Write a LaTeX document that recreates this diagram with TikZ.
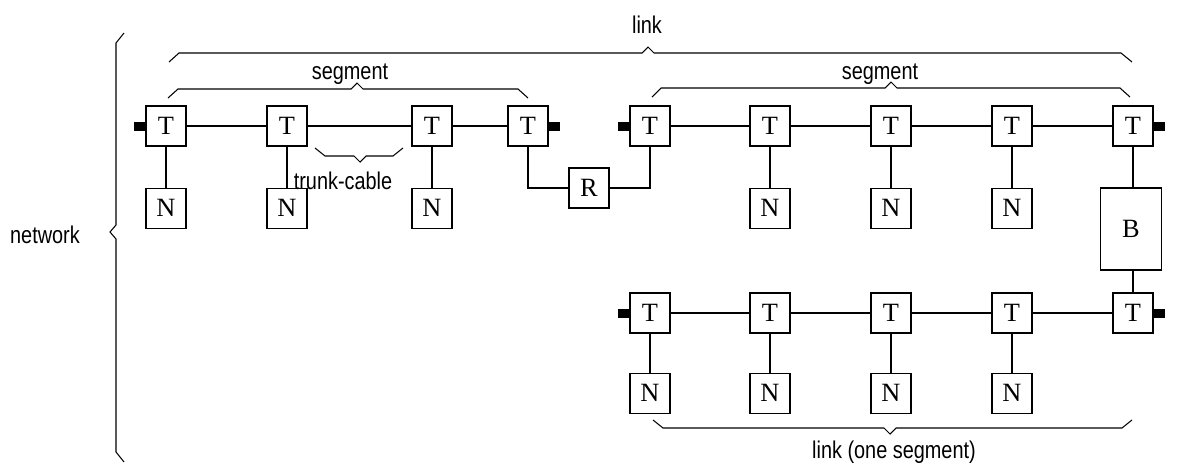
\documentclass[tikz,border=0pt]{standalone}
\usepackage{fontspec}
\setmainfont{Liberation Serif}
\newfontfamily\labelfont[FakeStretch=0.82]{Liberation Sans}
\usetikzlibrary{positioning}

\begin{document}
\begin{tikzpicture}[x=0.02cm, y=-0.02cm, line width=0.6pt,
    box/.style={draw, minimum size=0.8cm, inner sep=0pt, font=\fontsize{15}{17}\selectfont},
    term/.style={fill, minimum width=0.22cm, minimum height=0.18cm, inner sep=0pt},
    lbl/.style={font=\labelfont\fontsize{13.8}{16}\selectfont, inner sep=0pt}]

    \useasboundingbox (0,0) rectangle (1184,464);

    % Taps of the first segment
    \node[box] (t1) at (166,126) {T};
    \node[box] (t2) at (287,126) {T};
    \node[box] (t3) at (432,126) {T};
    \node[box] (t4) at (528,126) {T};

    % Taps of the second segment
    \node[box] (t5) at (650,126) {T};
    \node[box] (t6) at (770,126) {T};
    \node[box] (t7) at (891,126) {T};
    \node[box] (t8) at (1012,126) {T};
    \node[box] (t9) at (1133,126) {T};

    % Taps of the lower link
    \node[box] (u1) at (650,313) {T};
    \node[box] (u2) at (770,313) {T};
    \node[box] (u3) at (891,313) {T};
    \node[box] (u4) at (1012,313) {T};
    \node[box] (u5) at (1133,313) {T};

    % Stations
    \node[box, below=0.82cm of t1] (n1) {N};
    \node[box, below=0.82cm of t2] (n2) {N};
    \node[box, below=0.82cm of t3] (n3) {N};
    \node[box, below=0.82cm of t6] (n6) {N};
    \node[box, below=0.82cm of t7] (n7) {N};
    \node[box, below=0.82cm of t8] (n8) {N};
    \node[box, below=0.78cm of u1] (m1) {N};
    \node[box, below=0.78cm of u2] (m2) {N};
    \node[box, below=0.78cm of u3] (m3) {N};
    \node[box, below=0.78cm of u4] (m4) {N};

    % Repeater and bridge
    \node[box] (rep) at (589,188) {R};
    \node[box, minimum width=1.22cm, minimum height=1.64cm] (bridge) at (1131,229) {B};

    % Terminators
    \node[term, left=0pt of t1] (e1) {};
    \node[term, right=0pt of t4] (e4) {};
    \node[term, left=0pt of t5] (e5) {};
    \node[term, right=0pt of t9] (e9) {};
    \node[term, left=0pt of u1] (f1) {};
    \node[term, right=0pt of u5] (f5) {};

    % Trunk cables
    \draw (t1) -- (t2) -- (t3) -- (t4);
    \draw (t5) -- (t6) -- (t7) -- (t8) -- (t9);
    \draw (u1) -- (u2) -- (u3) -- (u4) -- (u5);

    % Drop cables
    \draw (t1) -- (n1);
    \draw (t2) -- (n2);
    \draw (t3) -- (n3);
    \draw (t6) -- (n6);
    \draw (t7) -- (n7);
    \draw (t8) -- (n8);
    \draw (u1) -- (m1);
    \draw (u2) -- (m2);
    \draw (u3) -- (m3);
    \draw (u4) -- (m4);

    % Repeater and bridge links
    \draw (t4.south) |- (rep.west);
    \draw (rep.east) -| (t5.south);
    \draw (t9.south) -- (t9.south |- bridge.north);
    \draw (u5.north) -- (u5.north |- bridge.south);

    % Braces
    \draw (124,33) -- (116,43) -- (116,225) -- (110,232) -- (116,239) -- (116,452) -- (124,462);
    \draw (169,62) -- (179,53) -- (642,53) -- (648,47) -- (654,53) -- (1121,53) -- (1132,62);
    \draw (168,98) -- (178,89) -- (351,89) -- (357,83) -- (363,89) -- (518,89) -- (528,98);
    \draw (652,97) -- (661,88) -- (885,88) -- (891,82) -- (897,88) -- (1120,88) -- (1130,97);
    \draw (315,148) -- (325,156) -- (354,156) -- (360,162) -- (366,156) -- (393,156) -- (403,148);
    \draw (653,420) -- (663,428) -- (884,428) -- (890,434) -- (896,428) -- (1122,428) -- (1132,420);

    % Labels
    \node[lbl] (lnet) at (45,235) {network};
    \node[lbl] (llink) at (647,25) {link};
    \node[lbl] (lseg1) at (350,74) {segment};
    \node[lbl] (lseg2) at (880,74) {segment};
    \node[lbl] (ltrunk) at (343,181) {trunk-cable};
    \node[lbl] (lone) at (894,452) {link (one segment)};

\end{tikzpicture}
\end{document}
